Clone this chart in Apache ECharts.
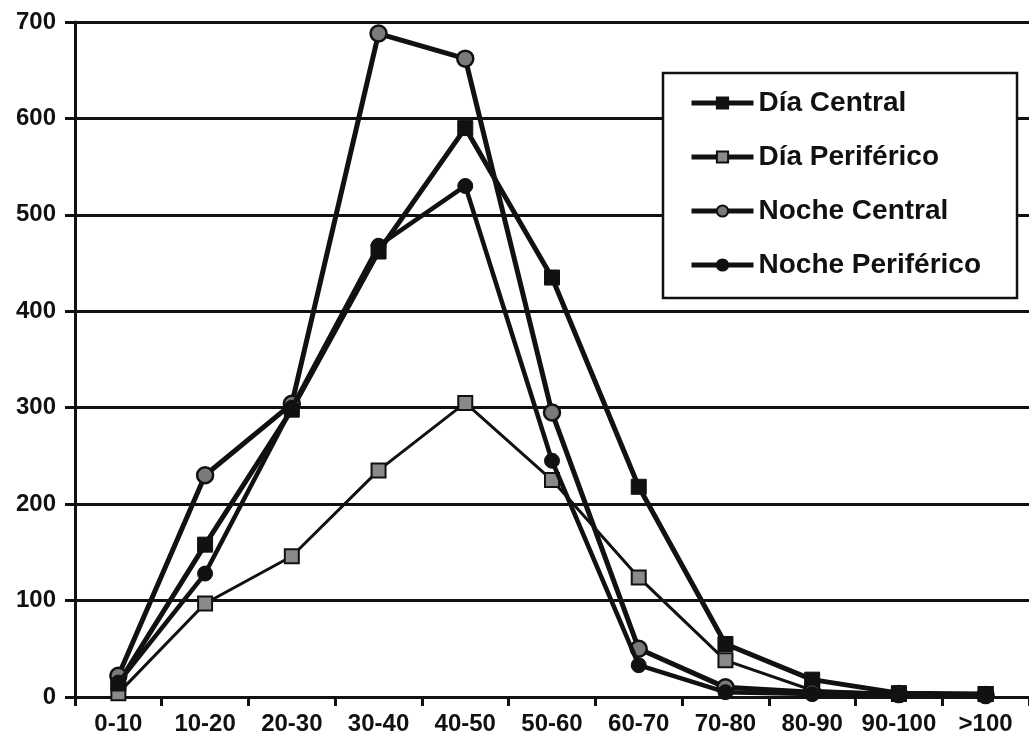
<!DOCTYPE html>
<html>
<head>
<meta charset="utf-8">
<script src="https://cdn.jsdelivr.net/npm/echarts@6/dist/echarts.min.js"></script>
<style>
  html, body { margin: 0; padding: 0; background: #ffffff; }
  #chart { width: 1029px; height: 747px; }
</style>
</head>
<body>
<div id="chart"></div>
<script>
// Speed classes (km/h) and vehicle counts per time of day and zone
const categories = ['0-10', '10-20', '20-30', '30-40', '40-50', '50-60', '60-70', '70-80', '80-90', '90-100', '>100'];
const dayCentral      = [14, 158, 298, 462, 590, 435, 218, 55, 18, 4, 3];
const dayPeripheral   = [4, 97, 146, 235, 305, 225, 124, 38, 7, 3, 3];
const nightCentral    = [22, 230, 304, 688, 662, 295, 50, 10, 5, 3, 2];
const nightPeripheral = [15, 128, 300, 468, 530, 245, 33, 5, 3, 2, 2];
const yTicks = { min: 0, max: 700, interval: 100 };

const FONT = '"Liberation Sans", Arial, sans-serif';
const INK = '#111111';

const chart = echarts.init(document.getElementById('chart'), null, { renderer: 'canvas' });

function lineSeries(name, data, opts) {
  return Object.assign({
    name: name,
    type: 'line',
    data: data,
    showAllSymbol: true,
    animation: false,
    clip: false,
    emphasis: { disabled: true }
  }, opts);
}

chart.setOption({
  backgroundColor: '#ffffff',
  animation: false,
  grid: { left: 75, right: -6, top: 22, bottom: 50, containLabel: false },
  legend: {
    orient: 'vertical',
    left: 663,
    top: 73,
    padding: [16, 36, 19, 26],
    itemGap: 26,
    itemWidth: 62,
    itemHeight: 14,
    backgroundColor: '#ffffff',
    borderColor: INK,
    borderWidth: 2.5,
    borderRadius: 0,
    selectedMode: false,
    lineStyle: { width: 5 },
    textStyle: { fontFamily: FONT, fontSize: 28, lineHeight: 26, color: INK, fontWeight: 'bold' },
    data: ['Día Central', 'Día Periférico', 'Noche Central', 'Noche Periférico']
  },
  xAxis: {
    type: 'category',
    data: categories,
    boundaryGap: true,
    axisLine: { show: true, lineStyle: { color: INK, width: 3 } },
    axisTick: { show: true, inside: false, length: 9, lineStyle: { color: INK, width: 3 } },
    axisLabel: { interval: 0, margin: 15, fontFamily: FONT, fontSize: 24, fontWeight: 'bold', color: INK },
    splitLine: { show: false }
  },
  yAxis: {
    type: 'value',
    min: yTicks.min,
    max: yTicks.max,
    interval: yTicks.interval,
    axisLine: { show: true, lineStyle: { color: INK, width: 3 } },
    axisTick: { show: true, inside: false, length: 10, lineStyle: { color: INK, width: 3 } },
    axisLabel: { margin: 19, fontFamily: FONT, fontSize: 24, fontWeight: 'bold', color: INK },
    splitLine: { show: true, lineStyle: { color: INK, width: 3 } }
  },
  series: [
    lineSeries('Día Central', dayCentral, {
      symbol: 'rect', symbolSize: 15,
      lineStyle: { color: INK, width: 5 },
      itemStyle: { color: INK, borderColor: INK, borderWidth: 1 },
      z: 4
    }),
    lineSeries('Día Periférico', dayPeripheral, {
      symbol: 'rect', symbolSize: 14,
      lineStyle: { color: INK, width: 3 },
      itemStyle: { color: '#8a8a8a', borderColor: INK, borderWidth: 2 },
      z: 3
    }),
    lineSeries('Noche Central', nightCentral, {
      symbol: 'circle', symbolSize: 16,
      lineStyle: { color: INK, width: 5 },
      itemStyle: { color: '#7a7a7a', borderColor: INK, borderWidth: 2.5 },
      z: 5
    }),
    lineSeries('Noche Periférico', nightPeripheral, {
      symbol: 'circle', symbolSize: 15,
      lineStyle: { color: INK, width: 4.5 },
      itemStyle: { color: INK, borderColor: INK, borderWidth: 1 },
      z: 6
    })
  ]
});
</script>
</body>
</html>
